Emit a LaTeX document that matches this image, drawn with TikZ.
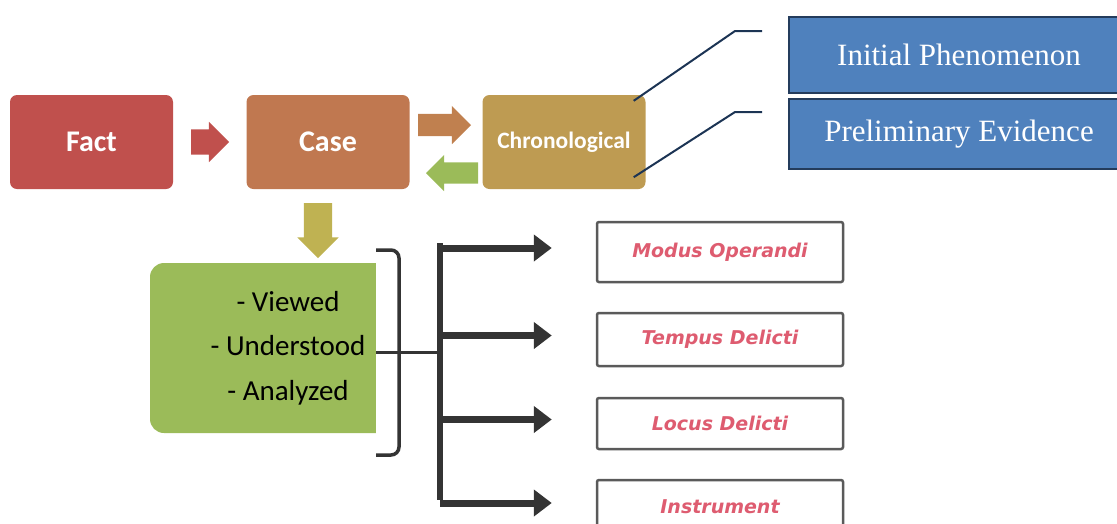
\documentclass[tikz,border=0pt]{standalone}
\usepackage{fontspec}
\usepackage{tikz}
\usetikzlibrary{calc,arrows.meta,positioning,shapes.arrows}
\newfontfamily\calibfont{Carlito}
\newfontfamily\timesfont{Liberation Serif}
\newfontfamily\dejafont{DejaVu Sans}
\definecolor{factRed}{RGB}{192,80,77}
\definecolor{caseBrown}{RGB}{192,120,80}
\definecolor{chronGold}{RGB}{190,155,82}
\definecolor{arrowOrange}{RGB}{192,128,79}
\definecolor{leafGreen}{RGB}{155,187,89}
\definecolor{oliveGold}{RGB}{191,178,82}
\definecolor{calloutBlue}{RGB}{79,129,189}
\definecolor{calloutEdge}{RGB}{36,60,92}
\definecolor{navyLine}{RGB}{28,52,84}
\definecolor{inkGray}{RGB}{52,52,52}
\definecolor{boxGray}{RGB}{90,90,90}
\definecolor{labelRed}{RGB}{222,92,112}

\begin{document}
\begin{tikzpicture}[x=1pt,y=-1pt,
  stepbox/.style={rounded corners=7pt, minimum width=163pt, minimum height=94pt, inner sep=0pt, text=white, font=\calibfont\bfseries\fontsize{30}{34}\selectfont},
  blockarrow/.style={single arrow, outer sep=0pt, anchor=tail},
  callout/.style={fill=calloutBlue, draw=calloutEdge, line width=2.5pt, minimum width=340pt, text=white, font=\timesfont\fontsize{31}{36}\selectfont},
  factorbox/.style={draw=boxGray, line width=2.5pt, rounded corners=2pt, fill=white, minimum width=246pt, minimum height=56pt, text=labelRed, font=\dejafont\bfseries\itshape\fontsize{19}{22}\selectfont},
  fatarrow/.style={inkGray, line width=7pt, -{Triangle[length=18pt,width=26pt]}},
  braceline/.style={inkGray, line width=3.5pt}
]
\useasboundingbox (0,0) rectangle (1117,523);

% top row
\node[stepbox, fill=factRed] (fact) at (91.5,142) {Fact};
\node[stepbox, fill=caseBrown] (case) at (328,142) {Case};
\node[stepbox, fill=chronGold, font=\calibfont\bfseries\fontsize{23.5}{28}\selectfont] (chron) at (564,142) {Chronological};

\node[blockarrow, fill=factRed, inner sep=12.5pt, minimum height=36pt, single arrow head extend=7.5pt] (a1) at (191,142) {};
\node[blockarrow, fill=arrowOrange, inner sep=11pt, minimum height=53pt, single arrow head extend=8pt] (a2) at (418,125) {};
\node[blockarrow, fill=leafGreen, inner sep=10.5pt, minimum height=52pt, single arrow head extend=7.5pt, shape border rotate=180] (a3) at (478,173) {};
\node[blockarrow, fill=oliveGold, inner sep=14pt, minimum height=55pt, single arrow head extend=6.5pt, shape border rotate=270] (a4) at (318,203) {};

% callouts
\node[callout, minimum height=76pt] (initial) at (959,55) {Initial Phenomenon};
\node[callout, minimum height=70pt] (prelim) at (959,134) {Preliminary Evidence};
\coordinate (c1) at ([xshift=-12pt,yshift=-6pt]chron.north east);
\coordinate (c2) at ([xshift=-12pt,yshift=12pt]chron.south east);
\coordinate (k1) at (762,31);
\coordinate (k2) at (762,112);
\draw[navyLine, line width=2pt] (c1) -- (735,31) -- (k1);
\draw[navyLine, line width=2pt] (c2) -- (735,112) -- (k2);

% green list
\node[fill=leafGreen, rounded corners=14pt, minimum width=276pt, minimum height=170pt, align=center, font=\calibfont\fontsize{29}{44.5}\selectfont] (analysis) at (288,348) {- Viewed\\- Understood\\- Analyzed};

% pasted image part
\fill[white] (376,215) rectangle (870,523);
\coordinate (imgedge) at (376,352);
\coordinate (spinetop) at (440,243);
\coordinate (spinebot) at (440,500);
\draw[braceline, rounded corners=8pt] (376,250) -- (399,250) -- (399,455) -- (376,455);
\draw[braceline, line width=3pt] (imgedge) -- (spinetop |- imgedge);
\draw[inkGray, line width=6pt] (spinetop) -- (spinebot);

\foreach \nm/\lab/\yy/\hh in {mo/Modus Operandi/252/60, td/Tempus Delicti/339.5/53, ld/Locus Delicti/423.5/51, ins/Instrument/507/54}
{
    \node[factorbox, minimum height=\hh pt] (\nm) at (720,\yy) {\lab};
    \coordinate (tip\nm) at ([xshift=-44pt,yshift=4pt]\nm.west);
    \draw[fatarrow] (spinetop |- tip\nm) -- (tip\nm);
}
\end{tikzpicture}
\end{document}
